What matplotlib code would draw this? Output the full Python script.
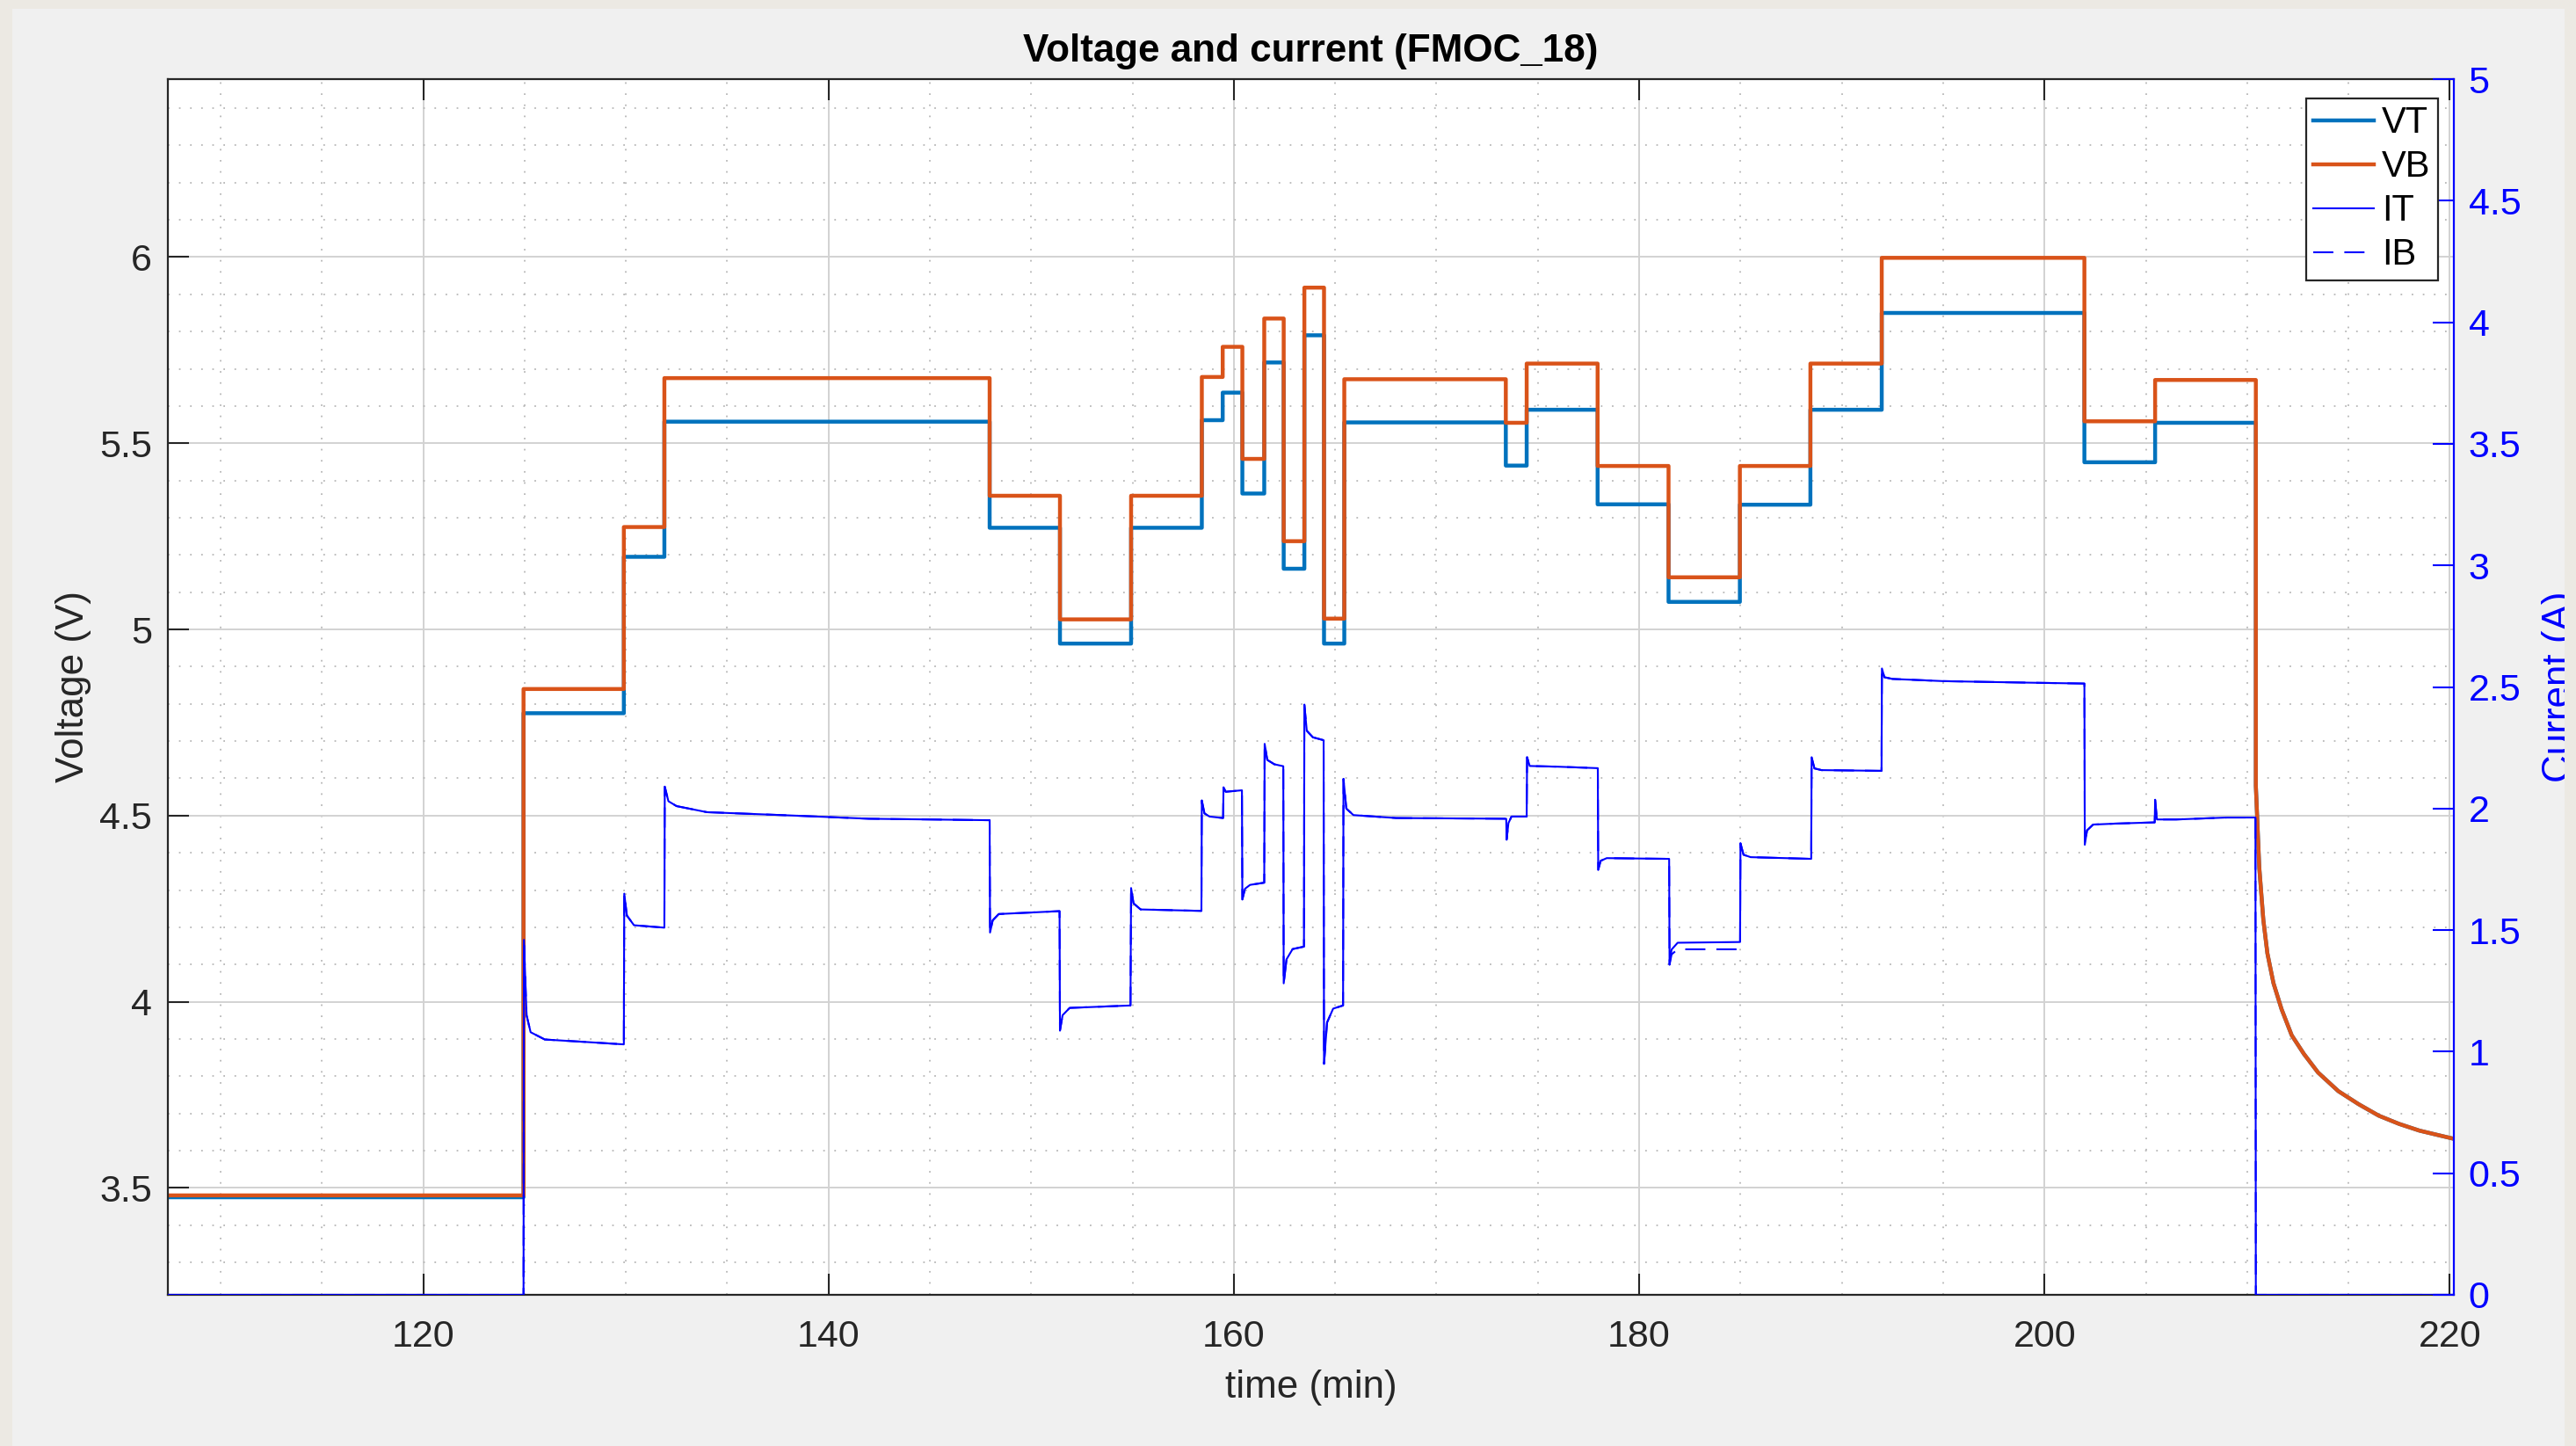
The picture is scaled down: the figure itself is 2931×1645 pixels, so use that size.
import numpy as np
import matplotlib.pyplot as plt
from matplotlib.ticker import MultipleLocator, FormatStrFormatter
from matplotlib.patches import Rectangle

plt.rcParams['font.family'] = ['Liberation Sans', 'DejaVu Sans']

# voltage steps: start time of each level (min) and the level (V)
step_t = [107.4, 124.95, 129.9, 131.9, 147.95, 151.42, 154.93, 158.42, 159.45,
          160.42, 161.5, 162.46, 163.48, 164.45, 165.45, 173.42, 174.45, 177.95,
          181.45, 184.97, 188.45, 191.97, 201.97, 205.46]
vt_steps = [3.475, 4.775, 5.195, 5.558, 5.273, 4.962, 5.273, 5.562, 5.636,
            5.365, 5.717, 5.163, 5.790, 4.962, 5.556, 5.440, 5.590, 5.336,
            5.074, 5.335, 5.590, 5.850, 5.449, 5.555]
vb_steps = [3.480, 4.840, 5.275, 5.675, 5.359, 5.027, 5.359, 5.678, 5.759,
            5.458, 5.835, 5.237, 5.918, 5.029, 5.672, 5.555, 5.714, 5.439,
            5.140, 5.439, 5.714, 5.998, 5.559, 5.670]

# relaxation once the current is switched off
relax_t = [210.43, 210.6, 210.8, 211.0, 211.3, 211.7, 212.2, 212.8, 213.5,
           214.5, 215.5, 216.5, 217.5, 218.5, 219.5, 220.2]
relax_v = [4.58, 4.36, 4.22, 4.13, 4.05, 3.98, 3.91, 3.86, 3.81,
           3.76, 3.725, 3.694, 3.672, 3.654, 3.641, 3.632]

# currents (A), both sampled at the same times
i_t = [107.4, 124.95, 124.97, 125.1, 125.3, 126.0, 128.0, 129.9,
       129.92, 130.05, 130.4, 131.9,
       131.92, 132.1, 132.5, 134.0, 138.0, 142.0, 147.95,
       147.97, 148.1, 148.4, 151.4,
       151.42, 151.55, 151.9, 154.9,
       154.93, 155.05, 155.4, 158.4,
       158.42, 158.55, 158.8, 159.47,
       159.49, 159.6, 160.4,
       160.42, 160.55, 160.8, 161.5,
       161.52, 161.65, 162.0, 162.44,
       162.46, 162.6, 162.9, 163.46,
       163.48, 163.6, 163.9, 164.43,
       164.45, 164.6, 164.9, 165.39,
       165.41, 165.55, 165.9, 168.0, 173.44,
       173.46, 173.55, 173.7, 174.45,
       174.47, 174.6, 176.0, 177.96,
       177.98, 178.1, 178.4, 181.48,
       181.5, 181.6, 181.9, 184.98,
       185.0, 185.15, 185.5, 188.49,
       188.51, 188.65, 189.0, 191.96,
       191.98, 192.1, 192.5, 195.0, 199.0, 201.97,
       201.99, 202.1, 202.4, 203.5, 205.44,
       205.46, 205.55, 206.5, 209.0, 210.41,
       210.43, 220.2]
it_a = [0.0, 0.0, 1.46, 1.15, 1.08, 1.05, 1.04, 1.03,
        1.65, 1.56, 1.52, 1.51,
        2.09, 2.03, 2.01, 1.985, 1.972, 1.958, 1.952,
        1.49, 1.54, 1.566, 1.578,
        1.087, 1.15, 1.18, 1.19,
        1.673, 1.61, 1.585, 1.579,
        2.033, 1.98, 1.967, 1.961,
        2.087, 2.069, 2.075,
        1.626, 1.67, 1.686, 1.695,
        2.266, 2.20, 2.182, 2.174,
        1.281, 1.38, 1.422, 1.432,
        2.427, 2.32, 2.293, 2.281,
        0.95, 1.12, 1.177, 1.19,
        2.122, 2.00, 1.973, 1.961, 1.958,
        1.872, 1.94, 1.967, 1.967,
        2.211, 2.175, 2.172, 2.166,
        1.748, 1.785, 1.796, 1.793,
        1.358, 1.42, 1.448, 1.451,
        1.857, 1.81, 1.800, 1.793,
        2.211, 2.165, 2.158, 2.155,
        2.576, 2.54, 2.533, 2.524, 2.518, 2.514,
        1.851, 1.91, 1.934, 1.938, 1.943,
        2.036, 1.955, 1.955, 1.963, 1.963,
        0.0, 0.0]
ib_a = [0.0, 0.0, 1.46, 1.15, 1.08, 1.05, 1.04, 1.03,
        1.65, 1.56, 1.52, 1.51,
        2.09, 2.03, 2.01, 1.985, 1.972, 1.958, 1.952,
        1.49, 1.54, 1.566, 1.578,
        1.087, 1.15, 1.18, 1.19,
        1.673, 1.61, 1.585, 1.579,
        2.033, 1.98, 1.967, 1.961,
        2.087, 2.069, 2.075,
        1.626, 1.67, 1.686, 1.695,
        2.266, 2.20, 2.182, 2.174,
        1.281, 1.38, 1.422, 1.432,
        2.427, 2.32, 2.293, 2.281,
        0.95, 1.12, 1.177, 1.19,
        2.122, 2.00, 1.973, 1.961, 1.958,
        1.872, 1.94, 1.967, 1.967,
        2.211, 2.175, 2.172, 2.166,
        1.748, 1.785, 1.796, 1.793,
        1.358, 1.40, 1.421, 1.421,
        1.857, 1.81, 1.800, 1.793,
        2.211, 2.165, 2.158, 2.155,
        2.576, 2.54, 2.533, 2.524, 2.518, 2.514,
        1.851, 1.91, 1.934, 1.938, 1.943,
        2.036, 1.955, 1.955, 1.963, 1.963,
        0.0, 0.0]


def stairs(starts, end, levels):
    # corner points of a step trace, each level held until the next start
    edges = np.array(starts + [end])
    return np.repeat(edges, 2)[1:-1], np.repeat(levels, 2)


vt_x, vt_y = stairs(step_t, relax_t[0], vt_steps)
vb_x, vb_y = stairs(step_t, relax_t[0], vb_steps)
vt_x = np.concatenate([vt_x, relax_t])
vt_y = np.concatenate([vt_y, relax_v])
vb_x = np.concatenate([vb_x, relax_t])
vb_y = np.concatenate([vb_y, relax_v])

W, H = 2931, 1645
fig = plt.figure(figsize=(W / 100, H / 100), dpi=100)
fig.patch.set_facecolor('#ECE9E3')
fig.add_artist(Rectangle((14 / W, 0), (2918 - 14) / W, (H - 10) / H,
                         transform=fig.transFigure, facecolor='#F0F0F0',
                         edgecolor='none', zorder=-1))

ax = fig.add_axes([191 / W, 172 / H, 2601 / W, 1383 / H])
ax2 = ax.twinx()

dark = '#262626'
fs = 31
lab_fs = 31.7

l_vt, = ax.plot(vt_x, vt_y, color='#0072BD', lw=3.2, label='VT')
l_vb, = ax.plot(vb_x, vb_y, color='#D95319', lw=3.2, label='VB')
l_it, = ax2.plot(i_t, it_a, color='blue', lw=1.5, label='IT', zorder=3)
l_ib, = ax2.plot(i_t, ib_a, color='blue', lw=1.5, ls='--', dashes=(11, 6),
                 label='IB', zorder=3)

ax.set_xlim(107.4, 220.2)
ax.set_ylim(3.213, 6.478)
ax2.set_ylim(0, 5)

ax.xaxis.set_major_locator(MultipleLocator(20))
ax.xaxis.set_minor_locator(MultipleLocator(5))
ax.yaxis.set_major_locator(MultipleLocator(0.5))
ax.yaxis.set_minor_locator(MultipleLocator(0.1))
ax.yaxis.set_major_formatter(FormatStrFormatter('%g'))
ax2.yaxis.set_major_locator(MultipleLocator(0.5))
ax2.yaxis.set_major_formatter(FormatStrFormatter('%g'))

ax.grid(which='major', color='#d2d2d2', lw=1.4)
ax.grid(which='minor', color='#b8b8b8', lw=1.3, ls=(0, (1, 6)))

ax.tick_params(which='major', direction='in', length=17, width=1.5,
               colors=dark, labelsize=fs, top=True)
ax.tick_params(axis='x', pad=20)
ax.tick_params(axis='y', pad=13)
ax.tick_params(which='minor', length=0)
ax2.tick_params(which='major', direction='in', length=17, width=1.5,
                colors='blue', labelsize=fs, pad=12)
ax2.tick_params(which='minor', length=0)

for s in ax.spines.values():
    s.set_color(dark)
    s.set_linewidth(1.6)
ax.spines['right'].set_visible(False)
for side in ('left', 'top', 'bottom'):
    ax2.spines[side].set_visible(False)
ax2.spines['right'].set_color('blue')
ax2.spines['right'].set_linewidth(1.6)

ax.set_title('Voltage and current (FMOC_18)', fontsize=lab_fs,
             fontweight='bold', color='black', pad=14.5)
ax.set_xlabel('time (min)', fontsize=lab_fs, color=dark)
ax.xaxis.set_label_coords(0.5, -0.0615)
ax.set_ylabel('Voltage (V)', fontsize=lab_fs, color=dark)
ax.yaxis.set_label_coords(-0.0336, 0.5)
ax2.set_ylabel('Current (A)', fontsize=lab_fs, color='blue')
ax2.yaxis.set_label_coords(1.0385, 0.5)

leg = ax2.legend(handles=[l_vt, l_vb, l_it, l_ib], loc='upper right',
                 bbox_to_anchor=(0.9931, 0.9841), borderaxespad=0,
                 fontsize=30, fancybox=False, framealpha=1,
                 edgecolor=dark, handlelength=1.65, handletextpad=0.22,
                 labelspacing=0.24, borderpad=0.2)
leg.get_frame().set_linewidth(1.6)

# screenshot frame cuts the right-hand label
fig.add_artist(Rectangle((2918 / W, 0), (W - 2918) / W, 1,
                         transform=fig.transFigure, facecolor='#ECE9E3',
                         edgecolor='none', zorder=10))

fig.savefig('out.png', dpi=100, facecolor=fig.get_facecolor())
